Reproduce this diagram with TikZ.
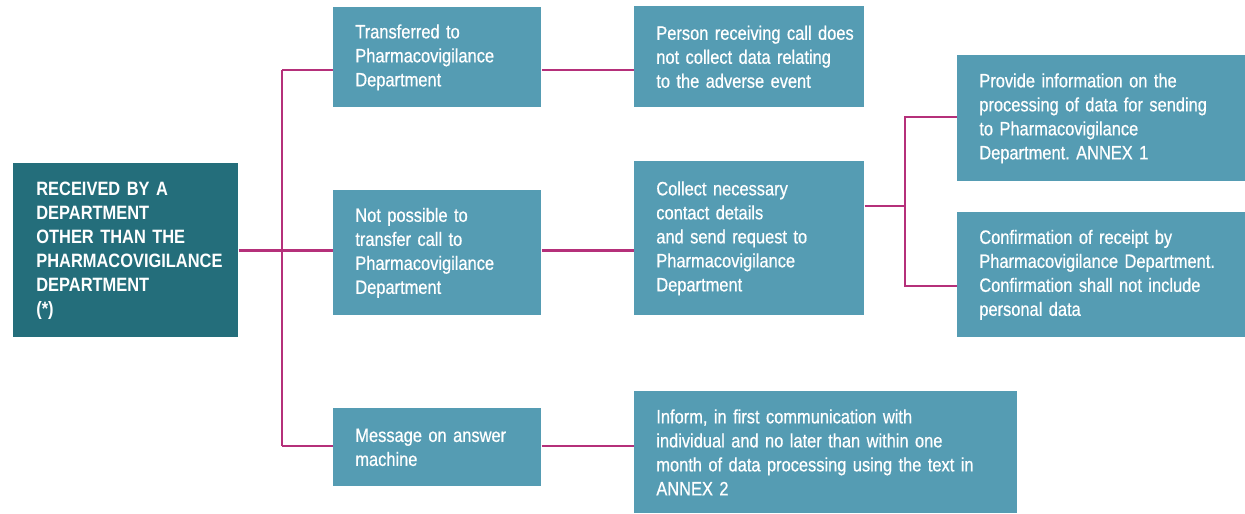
\documentclass[tikz,border=0pt]{standalone}
\usepackage{fontspec}
\setmainfont{Liberation Sans}[FakeStretch=0.85]
\newfontfamily\boxfont{Liberation Sans}[FakeStretch=0.85,FakeBold=0.6]
\usetikzlibrary{positioning}
\hyphenpenalty=10000
\frenchspacing
\definecolor{rootteal}{HTML}{246E7B}
\definecolor{boxblue}{HTML}{559CB3}
\definecolor{linkpink}{HTML}{B5307A}
\tikzset{
  box/.style={fill=boxblue, text=white, anchor=north west, inner xsep=0pt, inner ysep=0pt,
    align=left, font=\fontsize{11}{13.66}\boxfont, execute at begin node={\leftskip=0.44cm\relax}},
  rootbox/.style={box, fill=rootteal, font=\fontsize{11}{13.66}\selectfont\bfseries,
    execute at begin node={\leftskip=0.46cm\relax}},
  link/.style={draw=linkpink, line width=1.4pt}
}
\begin{document}
\begin{tikzpicture}[x=0.02cm, y=-0.02cm]
\useasboundingbox (0,0) rectangle (1245,514);
\node[rootbox, text width=4.5cm, minimum height=3.48cm] (root) at (13,163) {RECEIVED BY A\\DEPARTMENT\\OTHER THAN THE\\PHARMACOVIGILANCE\\DEPARTMENT\\(*)};
\node[box, text width=4.16cm, minimum height=2.0cm] (trans) at (333,7) {Transferred to\\Pharmacovigilance\\Department};
\node[box, text width=4.16cm, minimum height=2.5cm] (notposs) at (333,190) {Not possible to\\transfer call to\\Pharmacovigilance\\Department};
\node[box, text width=4.16cm, minimum height=1.56cm] (message) at (333,408) {Message on answer\\machine};
\node[box, text width=4.6cm, minimum height=2.02cm] (nocollect) at (634,6) {Person receiving call does\\not collect data relating\\to the adverse event};
\node[box, text width=4.6cm, minimum height=3.08cm] (collect) at (634,161) {Collect necessary\\contact details\\and send request to\\Pharmacovigilance\\Department};
\node[box, text width=7.66cm, minimum height=2.44cm] (inform) at (634,391) {Inform, in first communication with\\individual and no later than within one\\month of data processing using the text in\\ANNEX 2};
\node[box, text width=5.76cm, minimum height=2.52cm] (provide) at (957,55) {Provide information on the\\processing of data for sending\\to Pharmacovigilance\\Department. ANNEX 1};
\node[box, text width=5.76cm, minimum height=2.5cm] (confirm) at (957,212) {Confirmation of receipt by\\Pharmacovigilance Department.\\Confirmation shall not include\\personal data};
\coordinate (jtop) at (282,70);
\coordinate (jbot) at (282,446);
\coordinate (jcol) at (905,206);
\coordinate (jprov) at (905,117);
\coordinate (jconf) at (905,286);
\draw[link] (root.east) -- (root.east -| notposs.west);
\draw[link] (jtop) -- (jbot);
\draw[link] (jtop) -- (jtop -| trans.west);
\draw[link] (jbot) -- (jbot -| message.west);
\draw[link] (jtop -| trans.east) -- (jtop -| nocollect.west);
\draw[link] (root.east -| notposs.east) -- (root.east -| collect.west);
\draw[link] (jbot -| message.east) -- (jbot -| inform.west);
\draw[link] (jcol -| collect.east) -- (jcol);
\draw[link] (provide.west |- jprov) -- (jprov) -- (jconf) -- (jconf -| confirm.west);
\end{tikzpicture}
\end{document}
